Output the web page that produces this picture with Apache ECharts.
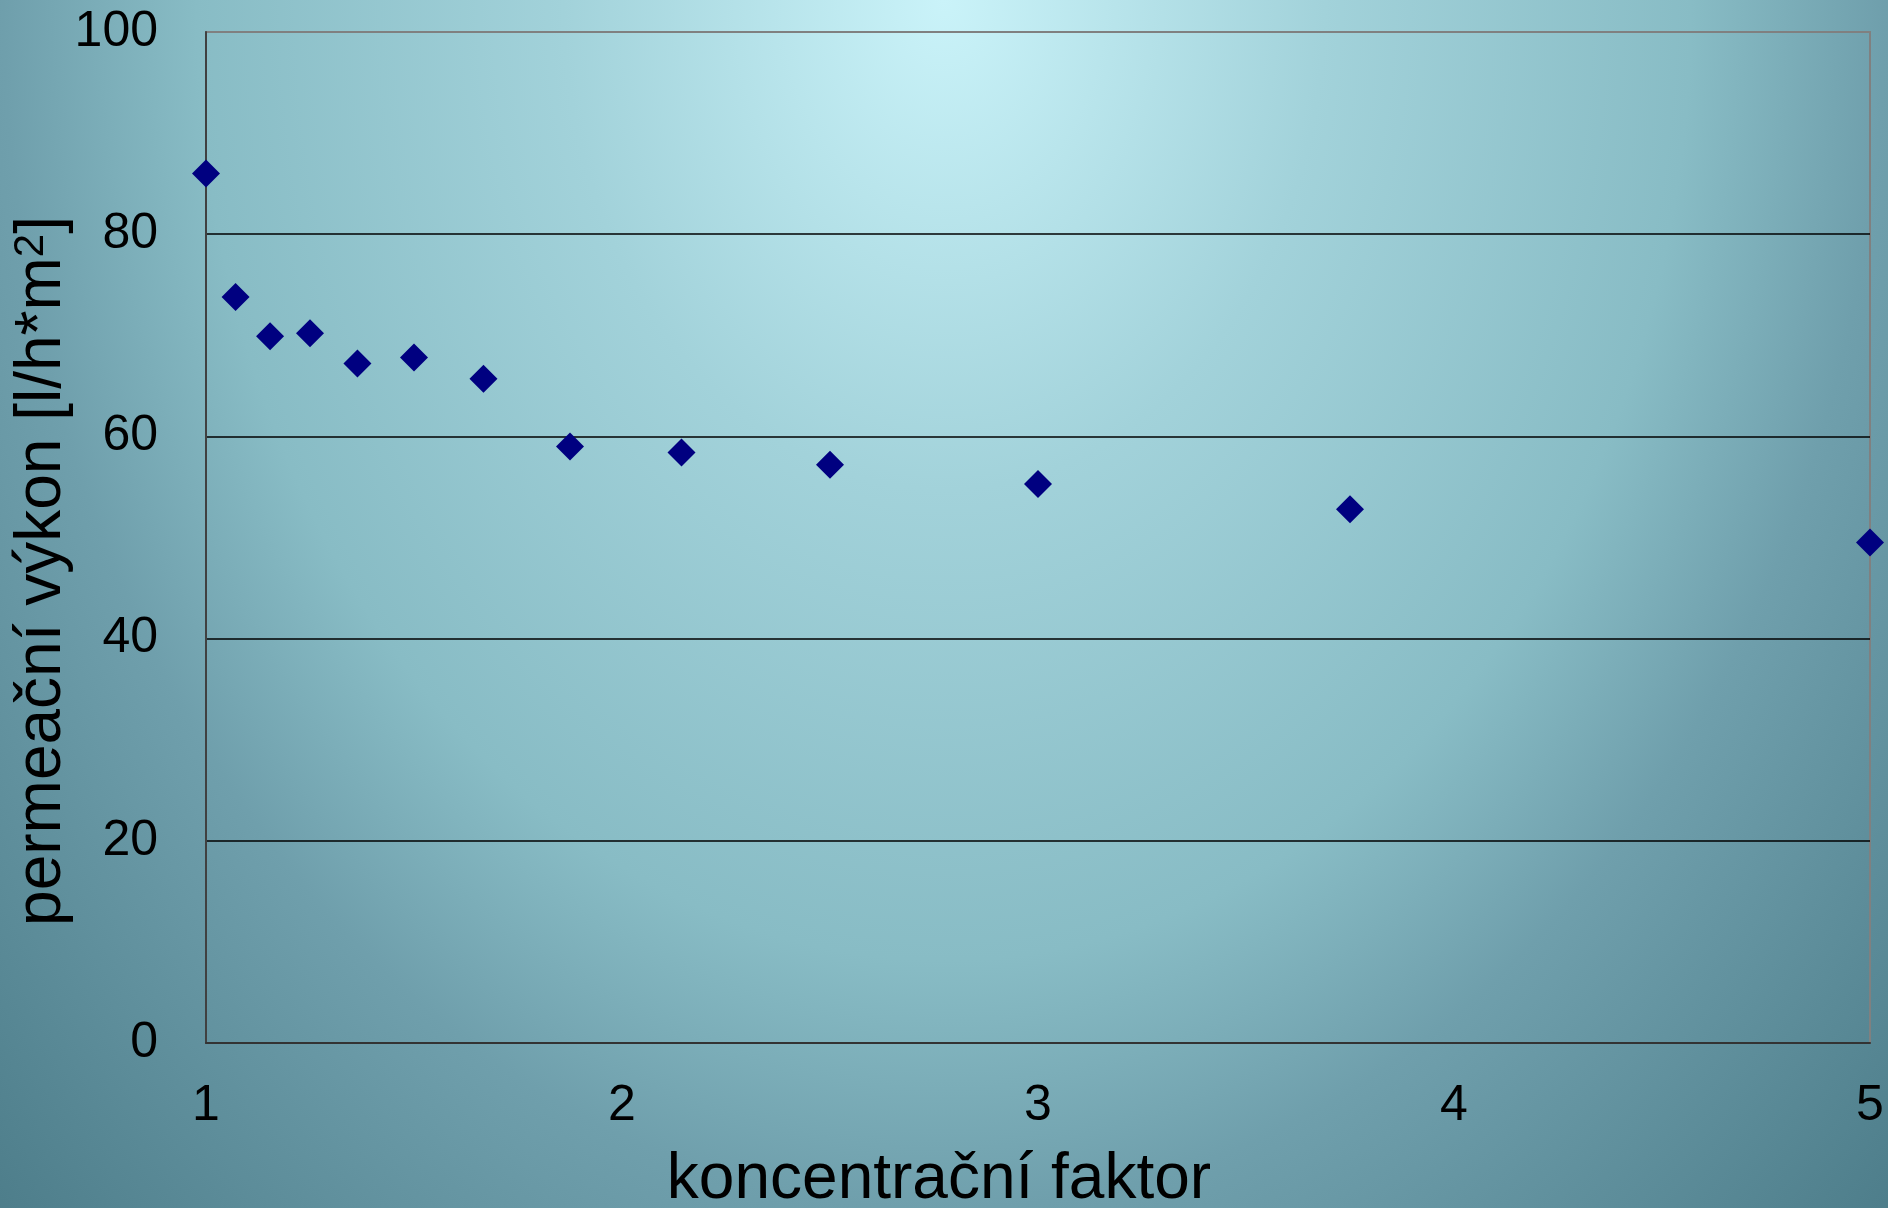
<!DOCTYPE html>
<html>
<head>
<meta charset="utf-8">
<title>Permeační výkon</title>
<script src="https://cdn.jsdelivr.net/npm/echarts@6/dist/echarts.min.js"></script>
<style>
  html, body { margin: 0; padding: 0; }
  #chart { width: 1888px; height: 1208px; }
</style>
</head>
<body>
<div id="chart"></div>
<script>
// Concentration factor (x) and permeate flux (y)
const koncentracniFaktor = [1, 1.071, 1.154, 1.25, 1.364, 1.5, 1.667, 1.875, 2.143, 2.5, 3, 3.75, 5];
const permeacniVykon = [86.0, 73.8, 69.9, 70.2, 67.2, 67.8, 65.7, 59.0, 58.4, 57.2, 55.3, 52.8, 49.5];

const xTicks = ['1', '2', '3', '4', '5'];
const yTicks = ['0', '20', '40', '60', '80', '100'];

const xTitle = 'koncentrační faktor';
const yTitleMain = 'permeační výkon [l/h*m';
const yTitleSup = '2';
const yTitleEnd = ']';

const FONT = "'Liberation Sans', Arial, Helvetica, sans-serif";

const points = koncentracniFaktor.map((x, i) => [x, permeacniVykon[i]]);

const chart = echarts.init(document.getElementById('chart'), null, { renderer: 'canvas' });

chart.setOption({
  animation: false,
  backgroundColor: 'transparent',
  graphic: [
    {
      // soft elliptical glow, brightest at the top centre
      type: 'rect',
      x: 0,
      y: 0,
      scaleY: 1208 / 940,
      z: -100,
      silent: true,
      shape: { x: 0, y: 0, width: 1888, height: 940 },
      style: {
        fill: {
          type: 'radial',
          x: 0.5,
          y: 0,
          r: 1.5,
          colorStops: [
            { offset: 0, color: '#caf3f9' },
            { offset: 0.27, color: '#a2d2da' },
            { offset: 0.53, color: '#88bcc5' },
            { offset: 0.667, color: '#6f9fac' },
            { offset: 0.95, color: '#4d7d8a' },
            { offset: 1, color: '#4a7a87' }
          ]
        }
      }
    },
    {
      type: 'text',
      x: 939,
      y: 1180,
      silent: true,
      style: {
        text: xTitle,
        fontSize: 64,
        fontFamily: FONT,
        fill: '#000',
        align: 'center',
        verticalAlign: 'middle'
      }
    },
    {
      type: 'text',
      x: 42,
      y: 571,
      rotation: Math.PI / 2,
      silent: true,
      style: {
        text: '{a|' + yTitleMain + '}{s|' + yTitleSup + '}{a|' + yTitleEnd + '}',
        fontFamily: FONT,
        fill: '#000',
        align: 'center',
        verticalAlign: 'middle',
        rich: {
          a: { fontSize: 64, fontFamily: FONT, fill: '#000', lineHeight: 64 },
          s: { fontSize: 42, fontFamily: FONT, fill: '#000', verticalAlign: 'top', lineHeight: 64 }
        }
      }
    }
  ],
  grid: {
    left: 206,
    right: 18,
    top: 32,
    bottom: 165,
    show: true,
    borderColor: '#808080',
    borderWidth: 2,
    backgroundColor: 'transparent',
    outerBoundsMode: 'none'
  },
  xAxis: {
    type: 'value',
    min: 1,
    max: 5,
    interval: 1,
    axisLine: { show: true, onZero: false, lineStyle: { color: '#333', width: 2 } },
    axisTick: { show: false },
    splitLine: { show: false },
    axisLabel: {
      margin: 38,
      fontSize: 50,
      fontFamily: FONT,
      color: '#000',
      formatter: (v) => xTicks[Math.round(v) - 1]
    }
  },
  yAxis: {
    type: 'value',
    min: 0,
    max: 100,
    interval: 20,
    axisLine: { show: true, lineStyle: { color: '#404040', width: 2 } },
    axisTick: { show: false },
    splitLine: {
      show: true,
      showMinLine: false,
      showMaxLine: false,
      lineStyle: { color: '#000', width: 1.5 }
    },
    axisLabel: {
      margin: 48,
      fontSize: 50,
      fontFamily: FONT,
      color: '#000',
      formatter: (v) => yTicks[Math.round(v / 20)]
    }
  },
  series: [
    {
      type: 'scatter',
      data: points,
      symbol: 'diamond',
      symbolSize: 28,
      clip: false,
      itemStyle: { color: '#000080', opacity: 1 }
    }
  ]
});
</script>
</body>
</html>
